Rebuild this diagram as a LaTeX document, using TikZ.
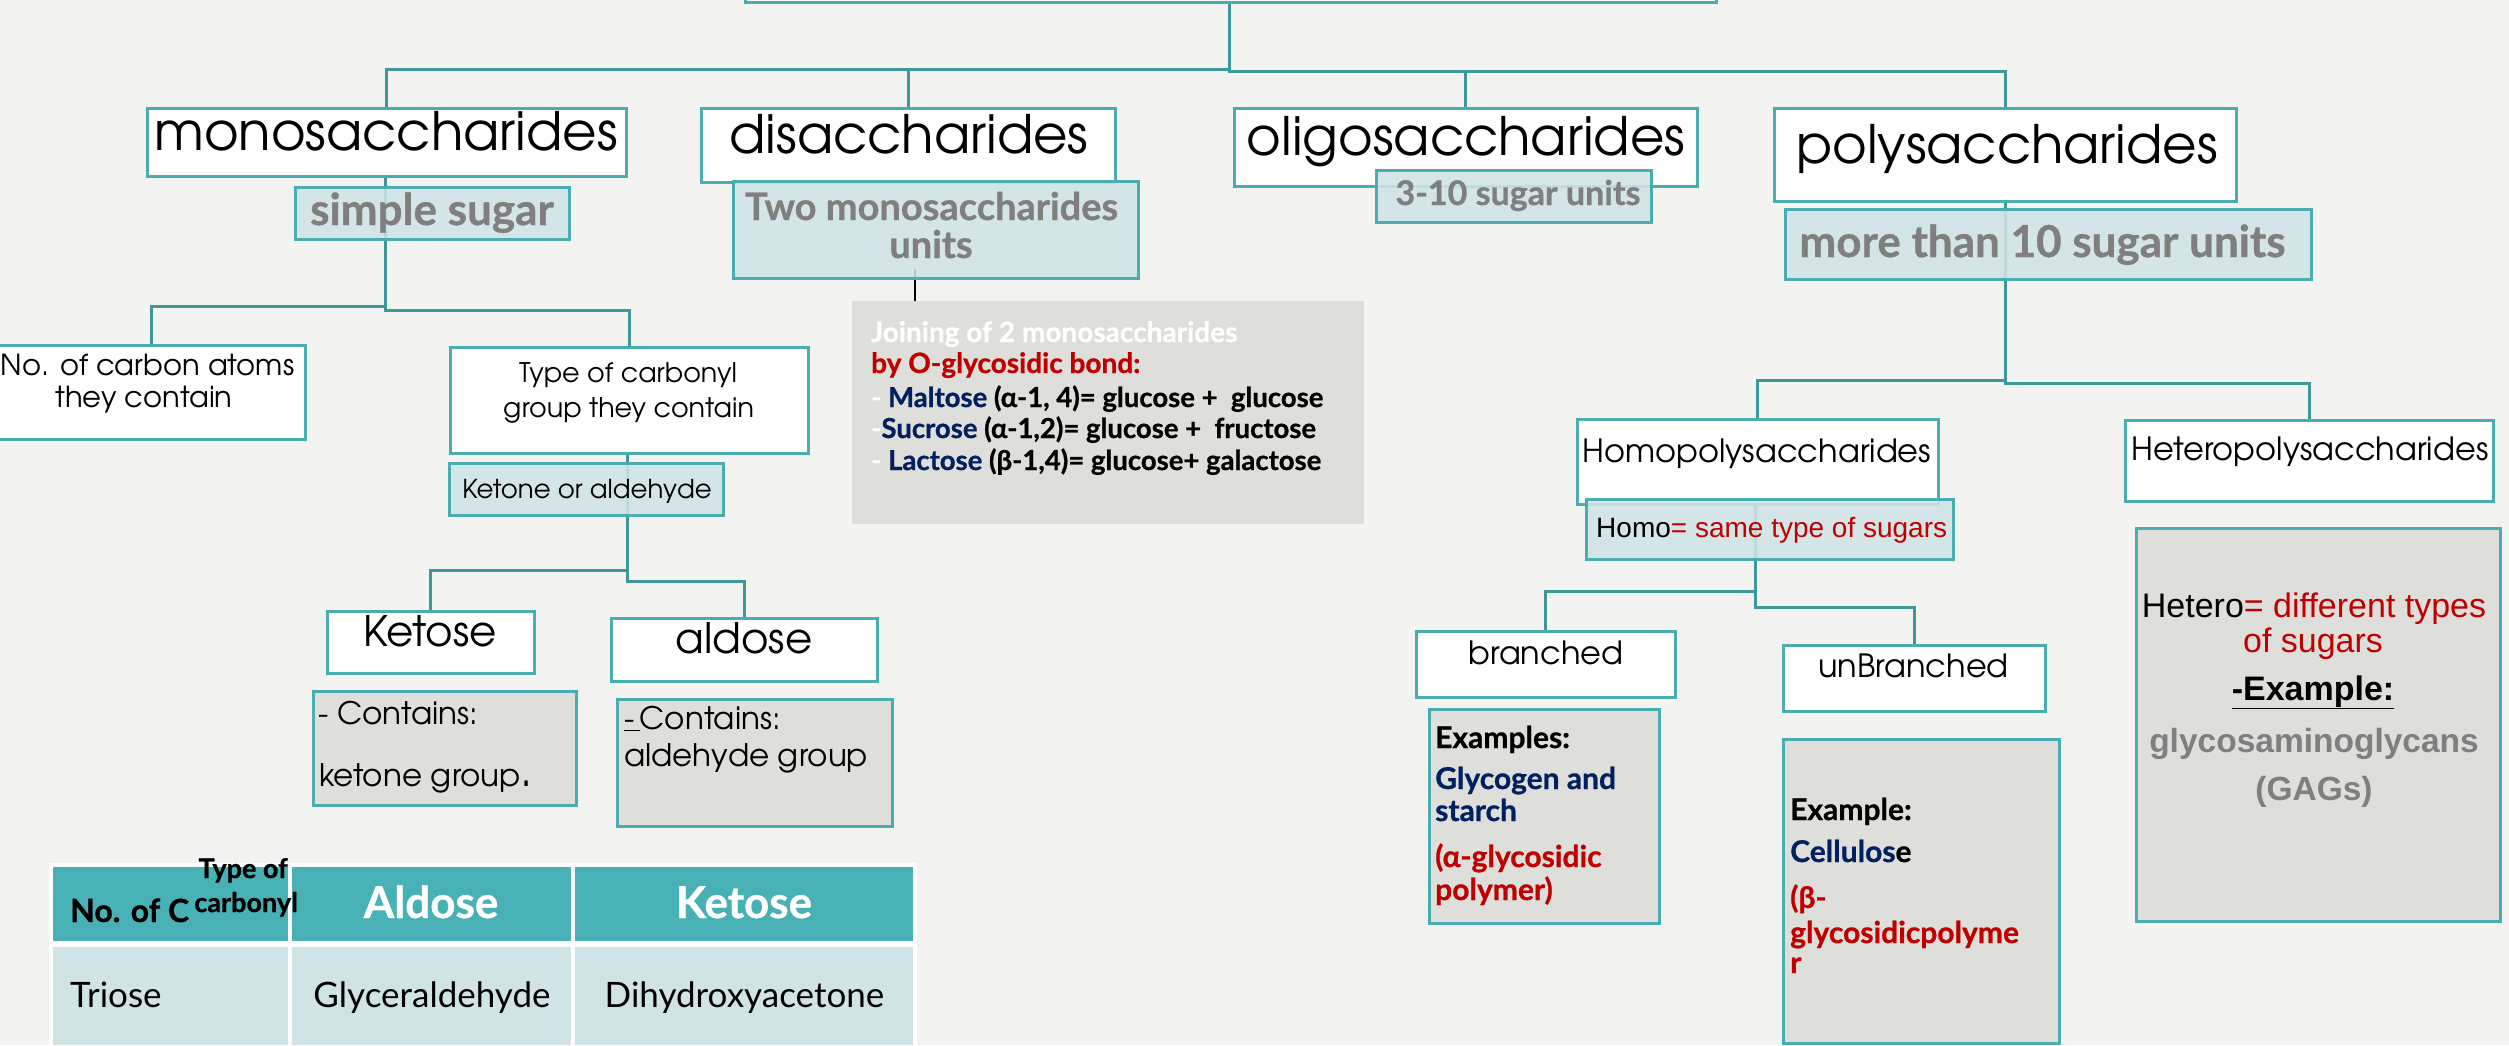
\documentclass[tikz,border=0pt]{standalone}
\usepackage{fontspec}
\setmainfont{Liberation Sans}
\newfontfamily\cgfont{texgyreadventor-regular.otf}
\newfontfamily\gsfont{Lato}[BoldFeatures={FakeBold=0.8}]
\newfontfamily\arfont{Liberation Sans}
\definecolor{pagebg}{HTML}{F3F3F1}
\definecolor{tealb}{HTML}{4AADB1}
\definecolor{tealc}{HTML}{3E979B}
\definecolor{lteal}{HTML}{D0E4E6}
\definecolor{grayf}{HTML}{DEDFDA}
\definecolor{headf}{HTML}{47B1B5}
\definecolor{navy}{HTML}{002060}
\definecolor{redt}{HTML}{C00000}
\definecolor{grayt}{HTML}{7F7F7F}
\newcommand{\fsz}[1]{\fontsize{#1}{#1}\selectfont}
\pgfdeclarelayer{pagelayer}
\pgfdeclarelayer{connlayer}
\pgfsetlayers{pagelayer,connlayer,main}
\tikzset{
  wbox/.style={draw=tealb, line width=3pt, fill=white, inner sep=0pt, outer sep=0pt},
  lbox/.style={draw=tealb, line width=3pt, fill=lteal, fill opacity=0.88, inner sep=0pt, outer sep=0pt},
  gbox/.style={draw=tealb, line width=3pt, fill=grayf, inner sep=0pt, outer sep=0pt},
  pbox/.style={fill=grayf, inner sep=0pt, outer sep=0pt},
  conn/.style={draw=tealc, line width=3pt},
  hcell/.style={fill=headf, draw=white, line width=4pt, inner sep=0pt, outer sep=0pt},
  rcell/.style={fill=lteal, draw=white, line width=4pt, inner sep=0pt, outer sep=0pt},
  lab/.style={anchor=base, inner sep=0pt},
  labl/.style={anchor=base west, inner sep=0pt},
  labr/.style={anchor=base east, inner sep=0pt},
  sz/.style 2 args={minimum width=#1pt, minimum height=#2pt},
  topf/.style={font=\cgfont\fsz{53}},
  midf/.style={font=\cgfont\fsz{27}},
  grayb/.style={text=grayt},
}
\begin{document}
\begin{tikzpicture}[x=1pt,y=-1pt]
\begin{pgfonlayer}{pagelayer}
\fill[pagebg] (0,0) rectangle (2509,1045);
\end{pgfonlayer}
\useasboundingbox (0,0) rectangle (2509,1045);

% ---------- boxes ----------
\node[wbox, sz={971}{80}] (root) at (1230.5,-38) {};
\node[wbox, sz={479}{68}] (mono) at (386.5,142) {};
\node[wbox, sz={414}{74}] (di) at (908,145) {};
\node[wbox, sz={463}{78}] (oligo) at (1465.5,147) {};
\node[wbox, sz={462}{93}] (poly) at (2005,154.5) {};
\node[lbox, sz={274}{52}] (simple) at (432,213) {};
\node[lbox, sz={405}{97}] (two) at (935.5,229.5) {};
\node[lbox, sz={275}{52}] (three) at (1513.5,196) {};
\node[lbox, sz={526}{70}] (more) at (2048,244) {};
\node[pbox, sz={512}{223}] (joining) at (1108,412.5) {};
\node[wbox, sz={307}{94}] (nocarbon) at (151.5,392) {};
\node[wbox, sz={358}{106}] (type) at (629,400) {};
\node[lbox, sz={274}{52}] (ketald) at (586,489) {};
\node[wbox, sz={207}{62}] (ketose) at (430.5,642) {};
\node[wbox, sz={266}{63}] (aldose) at (744,649.5) {};
\node[gbox, sz={263}{114}] (kcont) at (444.5,748) {};
\node[gbox, sz={275}{127}] (acont) at (754.5,762.5) {};
\node[wbox, sz={361}{85}] (homopoly) at (1757.5,461.5) {};
\node[wbox, sz={368}{81}] (heteropoly) at (2309,460.5) {};
\node[lbox, sz={367}{60}] (homoeq) at (1769.5,529) {};
\node[wbox, sz={259}{66}] (branched) at (1545.5,664) {};
\node[wbox, sz={262}{66}] (unbranched) at (1914,678) {};
\node[gbox, sz={230}{214}] (exbr) at (1544,816) {};
\node[gbox, sz={276}{304}] (exun) at (1921,891) {};
\node[gbox, sz={364}{393}] (hetero) at (2318,724.5) {};

% ---------- table ----------
\node[hcell, sz={239}{78}] (c11) at (170.5,904) {};
\node[hcell, sz={283}{78}] (c12) at (431.5,904) {};
\node[hcell, sz={342}{78}] (c13) at (744,904) {};
\node[rcell, sz={239}{102}] (c21) at (170.5,996) {};
\node[rcell, sz={283}{102}] (c22) at (431.5,996) {};
\node[rcell, sz={342}{102}] (c23) at (744,996) {};

% ---------- texts ----------
\node[lab, topf] (tmono) at (386,150) {monosaccharides};
\node[lab, topf] (tdi) at (909,153) {disaccharides};
\node[lab, topf] (toligo) at (1466,155) {oligosaccharides};
\node[lab, topf] (tpoly) at (2007,163) {polysaccharides};
\node[lab, grayb, font=\gsfont\bfseries\fsz{44}] (tsimple) at (432,225) {simple sugar};
\node[lab, grayb, font=\gsfont\bfseries\fsz{38}] (ttwoa) at (931.5,220) {Two monosaccharides};
\node[lab, grayb, font=\gsfont\bfseries\fsz{38}] (ttwob) at (931,258) {units};
\node[lab, grayb, font=\gsfont\bfseries\fsz{34}] (tthree) at (1518,205) {3-10 sugar units};
\node[lab, grayb, font=\gsfont\bfseries\fsz{44}] (tmore) at (2042.5,257) {more than 10 sugar units};

\node[labl, text=white, font=\gsfont\bfseries\fsz{28}] (jn1) at (871,342) {Joining of 2 monosaccharides};
\node[labl, text=redt, font=\gsfont\bfseries\fsz{28}] (jn2) at (871,373) {by O-glycosidic bond:};
\node[labl, font=\gsfont\bfseries\fsz{27.5}] (jn3) at (871,407) {\textcolor{white}{- }\textcolor{navy}{Maltose} (α-1, 4)= glucose +\ \ glucose};
\node[labl, font=\gsfont\bfseries\fsz{27.5}] (jn4) at (871,438) {\textcolor{white}{-}\textcolor{navy}{Sucrose} (α-1,2)= glucose +\ \ fructose};
\node[labl, font=\gsfont\bfseries\fsz{27.5}] (jn5) at (871,470) {\textcolor{white}{- }\textcolor{navy}{Lactose} (β-1,4)= glucose+ galactose};

\node[lab, font=\cgfont\fsz{29}] (tnoa) at (147.5,375) {No. of carbon atoms};
\node[lab, font=\cgfont\fsz{29}] (tnob) at (144,407) {they contain};
\node[lab, midf] (ttya) at (628,382) {Type of carbonyl};
\node[lab, midf] (ttyb) at (628.6,417) {group they contain};
\node[lab, font=\cgfont\fsz{26}] (tketald) at (587,498) {Ketone or aldehyde};
\node[lab, font=\cgfont\fsz{42}] (tketose) at (430,646) {Ketose};
\node[lab, font=\cgfont\fsz{42}] (taldose) at (744,653) {aldose};
\node[labl, font=\cgfont\fsz{31}] (tkca) at (318,724) {- Contains:};
\node[labl, font=\cgfont\fsz{31}] (tkcb) at (319,786) {ketone group{\fsz{44}.}};
\node[labl, font=\cgfont\fsz{31}] (taca) at (624,729) {\underline{-\,}Contains:};
\node[labl, font=\cgfont\fsz{31}] (tacb) at (624,766) {aldehyde group};

\node[lab, font=\cgfont\fsz{32}] (thomo) at (1757,462) {Homopolysaccharides};
\node[lab, font=\cgfont\fsz{32}] (thetero) at (2310,460) {Heteropolysaccharides};
\node[labl, font=\arfont\fsz{28}] (thomoeq) at (1596,537) {Homo\textcolor{redt}{= same type of sugars}};
\node[lab, font=\cgfont\fsz{32}] (tbr) at (1546,664) {branched};
\node[lab, font=\cgfont\fsz{32}] (tunbr) at (1913.5,677.5) {unBranched};

\node[labl, font=\gsfont\bfseries\fsz{30}] (exa) at (1435,748) {Examples:};
\node[labl, text=navy, font=\gsfont\bfseries\fsz{30}] (exb) at (1435,789) {Glycogen and};
\node[labl, text=navy, font=\gsfont\bfseries\fsz{30}] (exc) at (1435,821) {starch};
\node[labl, text=redt, font=\gsfont\bfseries\fsz{30}] (exd) at (1435,867) {(α-glycosidic};
\node[labl, text=redt, font=\gsfont\bfseries\fsz{30}] (exe) at (1435,900) {polymer)};

\node[labl, font=\gsfont\bfseries\fsz{30}] (eua) at (1790,820) {Example:};
\node[labl, font=\gsfont\bfseries\fsz{30}] (eub) at (1790,862) {\textcolor{navy}{Cellulos}e};
\node[labl, text=redt, font=\gsfont\bfseries\fsz{30}] (euc) at (1790,908) {(β-};
\node[labl, text=redt, font=\gsfont\bfseries\fsz{30}] (eud) at (1790,943) {glycosidicpolyme};
\node[labl, text=redt, font=\gsfont\bfseries\fsz{30}] (eue) at (1790,973) {r};

\node[lab, font=\arfont\fsz{34}] (hta) at (2314,617) {Hetero\textcolor{redt}{= different types}};
\node[lab, text=redt, font=\arfont\fsz{34}] (htb) at (2313,652) {of sugars};
\node[lab, font=\arfont\bfseries\fsz{34}] (htc) at (2313,700) {\underline{-Example:}};
\node[lab, grayb, font=\arfont\bfseries\fsz{33.5}] (htd) at (2314,752) {glycosaminoglycans};
\node[lab, grayb, font=\arfont\bfseries\fsz{33.5}] (hte) at (2314,800) {(GAGs)};

\node[labl, font=\gsfont\bfseries\fsz{32}] (tbh1) at (70,922) {No. of C};
\node[labr, font=\gsfont\bfseries\fsz{27}] (tbh2) at (298,912) {carbonyl};
\node[labr, font=\gsfont\bfseries\fsz{27}] (tbh3) at (288,878) {Type of};
\node[lab, text=white, font=\gsfont\bfseries\fsz{44}] (tbh4) at (431,918) {Aldose};
\node[lab, text=white, font=\gsfont\bfseries\fsz{44}] (tbh5) at (744,918) {Ketose};
\node[labl, font=\gsfont\fsz{35}] (tbr1) at (70,1007) {Triose};
\node[lab, font=\gsfont\fsz{35}] (tbr2) at (432,1007) {Glyceraldehyde};
\node[lab, font=\gsfont\fsz{35}] (tbr3) at (744.5,1007) {Dihydroxyacetone};

% ---------- connectors ----------
\begin{pgfonlayer}{connlayer}
\coordinate (j1) at (1229,69);
\coordinate (j2) at (1229,71);
\draw[conn] (root.south -| j1) -- (j1) -| (mono.north);
\draw[conn] (j1) -| (di.north);
\draw[conn] (j1) -- (j2) -| (oligo.north);
\draw[conn] (j2) -| (poly.north);
\coordinate (m1) at (385,306);
\coordinate (m2) at (385,310);
\draw[conn] (mono.south -| m1) -- (m1) -| (nocarbon.north);
\draw[conn] (m1) -- (m2) -| (type.north);
\coordinate (t1) at (627,570);
\coordinate (t2) at (627,581);
\draw[conn] (type.south -| t1) -- (t1) -| (ketose.north);
\draw[conn] (t1) -- (t2) -| (aldose.north);
\coordinate (p1) at (2005,380);
\coordinate (p2) at (2005,383);
\draw[conn] (poly.south) -- (p1) -| (homopoly.north);
\draw[conn] (p1) -- (p2) -| (heteropoly.north);
\coordinate (h1) at (1755,591);
\coordinate (h2) at (1755,607);
\draw[conn] (homopoly.south -| h1) -- (h1) -| (branched.north);
\draw[conn] (h1) -- (h2) -| (unbranched.north);
\coordinate (d1) at (915,269);
\draw[black, line width=1.5pt] (d1) -- (d1 |- joining.north);
\end{pgfonlayer}
\end{tikzpicture}
\end{document}
